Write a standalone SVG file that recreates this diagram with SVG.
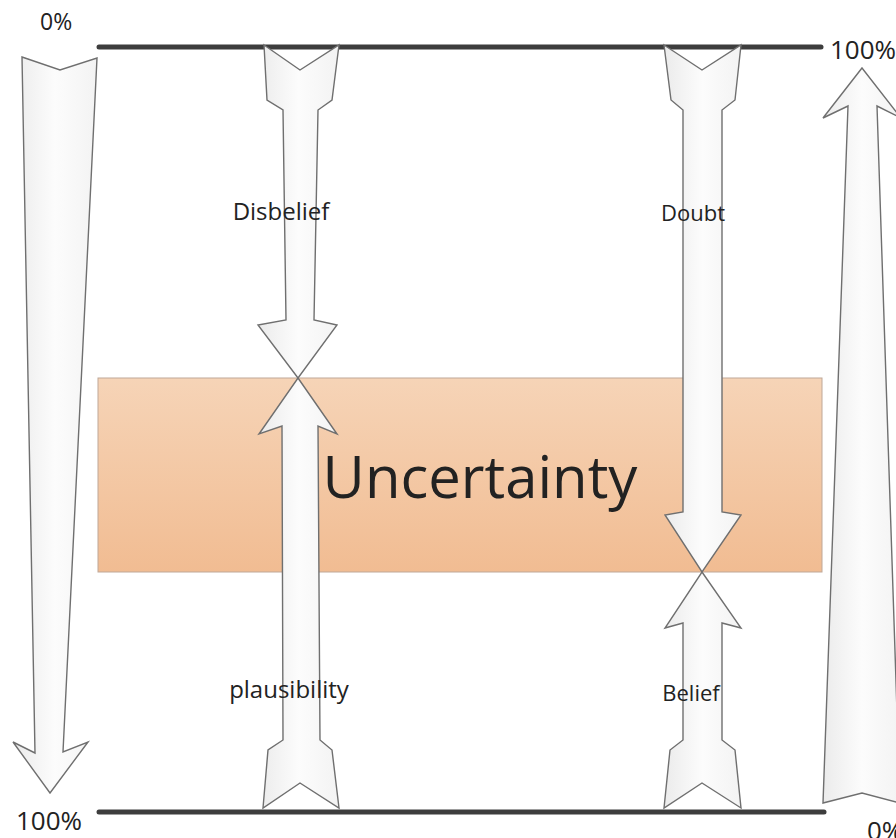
<svg xmlns="http://www.w3.org/2000/svg" width="896" height="838" viewBox="0 0 896 838">
<defs>
<linearGradient id="arrowFill" x1="0" y1="0" x2="1" y2="0">
<stop offset="0" stop-color="#ebebeb"/>
<stop offset="0.5" stop-color="#fcfcfc"/>
<stop offset="1" stop-color="#f3f3f3"/>
</linearGradient>
<linearGradient id="boxFill" x1="0" y1="0" x2="0" y2="1">
<stop offset="0" stop-color="#f6d4b7"/>
<stop offset="1" stop-color="#f1bc92"/>
</linearGradient>
</defs>
<style>
.arrow{fill:url(#arrowFill);stroke:#6f6f6f;stroke-width:1.4;stroke-linejoin:miter}
.rule{stroke:#3d3d3d;stroke-width:5;stroke-linecap:round;fill:none}
.lbl{font-family:"Open Sans","Liberation Sans",sans-serif;fill:#222}
</style>
<rect width="896" height="838" fill="#ffffff"/>
<g id="connectors">
<line class="rule" x1="99" y1="47" x2="821" y2="47"/>
<line class="rule" x1="99" y1="812" x2="824" y2="812"/>
</g>
<g id="uncertainty">
<rect x="98" y="378" width="724" height="194" fill="url(#boxFill)" stroke="#bfa898" stroke-width="1"/>
<text class="lbl" x="480" y="498" font-size="58" text-anchor="middle">Uncertainty</text>
</g>
<g id="scale-left">
<polygon class="arrow" points="22,57 60,70 97,58 63,752 88,742 50,793 13,742 35,753"/>
<text class="lbl" x="40" y="30" font-size="23">0%</text>
<text class="lbl" x="16" y="830" font-size="26">100%</text>
</g>
<g id="scale-right">
<polygon class="arrow" points="862,68 901,118 877,106 900,803 862,793 823,803 848,106 823,118"/>
<text class="lbl" x="830" y="59" font-size="26">100%</text>
<text class="lbl" x="867" y="840" font-size="26">0%</text>
</g>
<g id="disbelief">
<polygon class="arrow" points="264,45 300,70 339,45 332,100 318,110 314,320 337,325 298,378 258,325 286,320 283,110 267,100"/>
<text class="lbl" x="281" y="220" font-size="24" text-anchor="middle">Disbelief</text>
</g>
<g id="plausibility">
<polygon class="arrow" points="298,378 337,434 318,426 320,740 332,750 339,808 300,783 263,808 268,750 283,740 282,426 259,434"/>
<text class="lbl" x="289" y="698" font-size="24" text-anchor="middle">plausibility</text>
</g>
<g id="doubt">
<polygon class="arrow" points="664,45 702,70 741,45 735,100 722,110 722,512 741,515 702,572 665,515 683,512 683,110 671,100"/>
<text class="lbl" x="693" y="221" font-size="22" text-anchor="middle">Doubt</text>
</g>
<g id="belief">
<polygon class="arrow" points="702,572 741,628 722,623 722,740 735,750 741,808 702,783 664,808 670,750 683,740 683,623 665,628"/>
<text class="lbl" x="691" y="701" font-size="22" text-anchor="middle">Belief</text>
</g>
</svg>
